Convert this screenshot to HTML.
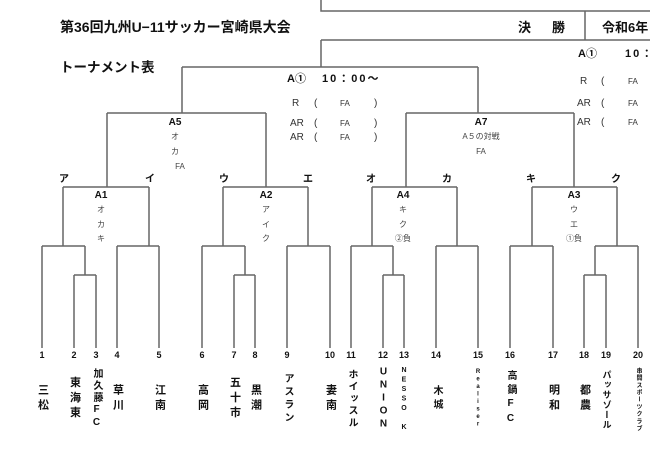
<!DOCTYPE html>
<html><head><meta charset="utf-8"><style>
html,body{margin:0;padding:0;background:#fff;}
#w{position:relative;width:650px;height:457px;overflow:hidden;font-family:"Liberation Sans","Noto Sans CJK JP",sans-serif;}
svg{position:absolute;left:0;top:0;}
.v{position:absolute;writing-mode:vertical-rl;text-orientation:upright;transform:translate(-50%,-50%);font-weight:bold;font-size:11px;letter-spacing:4px;color:#111;white-space:nowrap;line-height:1;}
</style></head><body><div id="w">
<svg width="650" height="457" viewBox="0 0 650 457" font-family="Liberation Sans, Noto Sans CJK JP, sans-serif">
<g stroke="#666" stroke-width="1.5" fill="none">
<path d="M321 0V11H650"/>
<path d="M585 11V40"/>
<path d="M321 40H650"/>
<path d="M321 40V67M182 67H478M182 67V113M478 67V113"/>
<path d="M107 113H266M107 113V187M266 113V187"/>
<path d="M406 113H574M406 113V187M574 113V187"/>
<path d="M63 187H149M63 187V246M149 187V246M42 246H85M117 246H159M85 246V275M74 275H96M42 246V348M74 275V348M96 275V348M117 246V348M159 246V348"/>
<path d="M223 187H308M223 187V246M308 187V246M202 246H245M287 246H330M245 246V275M234 275H255M202 246V348M234 275V348M255 275V348M287 246V348M330 246V348"/>
<path d="M372 187H457M372 187V246M457 187V246M351 246H393M436 246H478M393 246V275M383 275H404M351 246V348M383 275V348M404 275V348M436 246V348M478 246V348"/>
<path d="M532 187H617M532 187V246M617 187V246M510 246H553M595 246H638M595 246V275M584 275H606M510 246V348M553 246V348M584 275V348M606 275V348M638 246V348"/>
</g>
<g font-weight="bold" fill="#111">
<text x="60" y="32" font-size="14">第36回九州U−11サッカー宮崎県大会</text>
<text x="60" y="72" font-size="13.5">トーナメント表</text>
<text x="518" y="32" font-size="13">決</text>
<text x="552" y="32" font-size="13">勝</text>
<text x="602" y="32" font-size="13">令和6年</text>
<text x="578" y="57" font-size="11">A①</text>
<text x="625" y="57" font-size="11" letter-spacing="2">10：</text>
<text x="287" y="82" font-size="11">A①</text>
<text x="322" y="82" font-size="11" letter-spacing="2">10：00～</text>
<g font-size="10" text-anchor="middle">
<text x="175" y="125">A5</text><text x="481" y="125">A7</text>
<text x="101" y="198">A1</text><text x="266" y="198">A2</text><text x="403" y="198">A4</text><text x="574" y="198">A3</text>
<text x="64" y="182">ア</text><text x="150" y="182">イ</text><text x="224" y="182">ウ</text><text x="308" y="182">エ</text>
<text x="371" y="182">オ</text><text x="447" y="182">カ</text><text x="531" y="182">キ</text><text x="616" y="182">ク</text>
</g>
</g>
<g font-size="10" fill="#333">
<text x="292" y="106">R</text><text x="314" y="106">(</text><text x="340" y="106" font-size="8">FA</text><text x="374" y="106">)</text>
<text x="290" y="126">AR</text><text x="314" y="126">(</text><text x="340" y="126" font-size="8">FA</text><text x="374" y="126">)</text>
<text x="290" y="140">AR</text><text x="314" y="140">(</text><text x="340" y="140" font-size="8">FA</text><text x="374" y="140">)</text>
<text x="580" y="84">R</text><text x="601" y="84">(</text><text x="628" y="84" font-size="8">FA</text>
<text x="577" y="106">AR</text><text x="601" y="106">(</text><text x="628" y="106" font-size="8">FA</text>
<text x="577" y="125">AR</text><text x="601" y="125">(</text><text x="628" y="125" font-size="8">FA</text>
</g>
<g font-size="8" fill="#444" text-anchor="middle">
<text x="175" y="139">オ</text><text x="175" y="154">カ</text><text x="180" y="169">FA</text>
<text x="481" y="139">A５の対戦</text><text x="481" y="154">FA</text>
<text x="101" y="212">オ</text><text x="101" y="227">カ</text><text x="101" y="241">キ</text>
<text x="266" y="212">ア</text><text x="266" y="227">イ</text><text x="266" y="241">ク</text>
<text x="403" y="212">キ</text><text x="403" y="227">ク</text><text x="403" y="241">②負</text>
<text x="574" y="212">ウ</text><text x="574" y="227">エ</text><text x="574" y="241">①負</text>
</g>
<g font-size="9" font-weight="bold" fill="#111" text-anchor="middle">
<text x="42" y="358">1</text><text x="74" y="358">2</text><text x="96" y="358">3</text><text x="117" y="358">4</text><text x="159" y="358">5</text>
<text x="202" y="358">6</text><text x="234" y="358">7</text><text x="255" y="358">8</text><text x="287" y="358">9</text><text x="330" y="358">10</text>
<text x="351" y="358">11</text><text x="383" y="358">12</text><text x="404" y="358">13</text><text x="436" y="358">14</text><text x="478" y="358">15</text>
<text x="510" y="358">16</text><text x="553" y="358">17</text><text x="584" y="358">18</text><text x="606" y="358">19</text><text x="638" y="358">20</text>
</g>
</svg>
<div class="v" style="left:42px;top:399px">三松</div>
<div class="v" style="left:74px;top:399px">東海東</div>
<div class="v" style="left:96px;top:399px;font-size:10px;letter-spacing:2px">加久藤FC</div>
<div class="v" style="left:117px;top:399px">草川</div>
<div class="v" style="left:159px;top:399px">江南</div>
<div class="v" style="left:202px;top:399px">高岡</div>
<div class="v" style="left:234px;top:399px">五十市</div>
<div class="v" style="left:255px;top:399px">黒潮</div>
<div class="v" style="left:287px;top:399px;font-size:10px;letter-spacing:3px">アスラン</div>
<div class="v" style="left:330px;top:399px">妻南</div>
<div class="v" style="left:351px;top:399px;font-size:10px;letter-spacing:2px">ホイッスル</div>
<div class="v" style="left:383px;top:399px;font-size:10px;letter-spacing:2px">UNION</div>
<div class="v" style="left:404px;top:400px;font-size:7px;letter-spacing:2.5px">NESSO　K</div>
<div class="v" style="left:436px;top:399px;font-size:10px">木城</div>
<div class="v" style="left:478px;top:399px;font-size:6px;letter-spacing:1.5px">Realiser</div>
<div class="v" style="left:510px;top:399px;font-size:10px;letter-spacing:4px">高鍋FC</div>
<div class="v" style="left:553px;top:399px">明和</div>
<div class="v" style="left:584px;top:399px">都農</div>
<div class="v" style="left:606px;top:400px;font-size:9px;letter-spacing:1px">パッサゾール</div>
<div class="v" style="left:638px;top:400px;font-size:6px;letter-spacing:1.2px">串間スポーツクラブ</div>
</div></body></html>
